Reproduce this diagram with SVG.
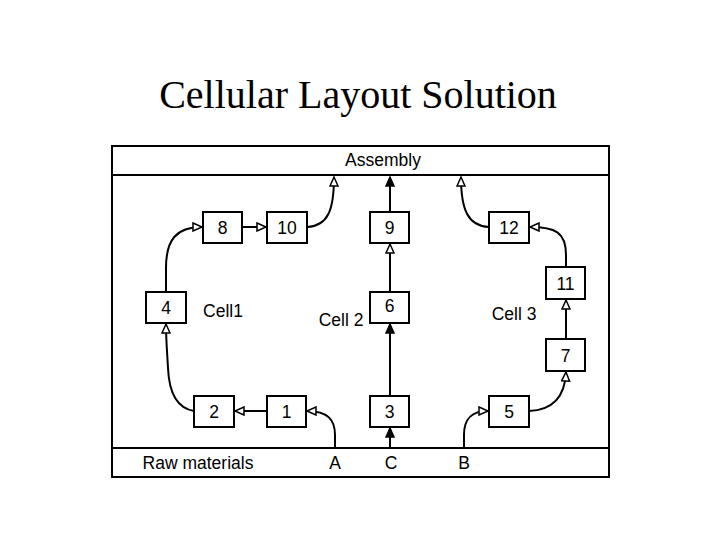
<svg xmlns="http://www.w3.org/2000/svg" width="720" height="540" viewBox="0 0 720 540">
<style>
.box{fill:#fff;stroke:#000;stroke-width:2}
.t{font-family:"Liberation Sans",Arial,sans-serif;font-size:17.5px;fill:#000;text-anchor:middle}
.c{fill:none;stroke:#000;stroke-width:2}
.h{marker-end:url(#hollow)}
.f{marker-end:url(#filled)}
</style>
<defs>
<marker id="hollow" markerUnits="userSpaceOnUse" markerWidth="12" markerHeight="10" refX="9" refY="4" orient="auto" viewBox="-1 -1 12 10">
<path d="M0,0 L9,4 L0,8 z" fill="#fff" stroke="#000" stroke-width="1.5"/>
</marker>
<marker id="filled" markerUnits="userSpaceOnUse" markerWidth="12" markerHeight="10" refX="9" refY="4" orient="auto" viewBox="-1 -1 12 10">
<path d="M0,0 L9,4 L0,8 z" fill="#000" stroke="#000" stroke-width="1.5"/>
</marker>
</defs>
<rect width="720" height="540" fill="#fff"/>
<text x="358" y="108" style="font-family:'Liberation Serif','Times New Roman',serif;font-size:40px;text-anchor:middle">Cellular Layout Solution</text>
<g id="frame">
<rect x="112" y="146" width="497" height="331" fill="none" stroke="#000" stroke-width="2"/>
<line x1="112" y1="175" x2="609" y2="175" stroke="#000" stroke-width="2"/>
<line x1="112" y1="448" x2="609" y2="448" stroke="#000" stroke-width="2"/>
</g>
<g id="assembly"><text class="t" x="383" y="166">Assembly</text></g>
<g id="raw"><text class="t" x="198" y="469">Raw materials</text></g>
<g id="srcA"><text class="t" x="335" y="469">A</text></g>
<g id="srcC"><text class="t" x="391" y="469">C</text></g>
<g id="srcB"><text class="t" x="464" y="469">B</text></g>
<g id="cell1"><text class="t" x="223" y="317">Cell1</text></g>
<g id="cell2"><text class="t" x="341" y="326">Cell 2</text></g>
<g id="cell3"><text class="t" x="514" y="320">Cell 3</text></g>
<g id="connectors">
<path class="c h" d="M166,292 L166,268 C166,240 176,227 202,227"/>
<path class="c h" d="M242,227 L266,227"/>
<path class="c h" d="M307,227 C328,226 334,210 334,177"/>
<path class="c f" d="M390,212 L390,177"/>
<path class="c h" d="M489,227 C468,226 461,210 461,177"/>
<path class="c h" d="M390,292 L390,244"/>
<path class="c h" d="M566,267 L566,255 C566,232 555,227 530,227"/>
<path class="c h" d="M566,339 L566,300"/>
<path class="c h" d="M529,411 C555,410 565,395 566,372"/>
<path class="c h" d="M194,411 C176,408 169,392 168,368 C167,350 166,340 166,324"/>
<path class="c h" d="M267,411 L235,411"/>
<path class="c h" d="M335,448 L335,435 C335,420 328,411 307,411"/>
<path class="c f" d="M390,448 L390,428"/>
<path class="c h" d="M464,448 L464,435 C464,420 470,411 488,411"/>
<path class="c f" d="M390,396 L390,324"/>
</g>
<g id="n8"><rect class="box" x="203" y="212" width="39" height="31"/><text class="t" x="222.5" y="234">8</text></g>
<g id="n10"><rect class="box" x="267" y="212" width="40" height="31"/><text class="t" x="287" y="234">10</text></g>
<g id="n9"><rect class="box" x="370" y="212" width="39" height="31"/><text class="t" x="389.5" y="234">9</text></g>
<g id="n12"><rect class="box" x="489" y="212" width="40" height="31"/><text class="t" x="509" y="234">12</text></g>
<g id="n4"><rect class="box" x="146" y="292" width="40" height="31"/><text class="t" x="166" y="314">4</text></g>
<g id="n6"><rect class="box" x="370" y="292" width="39" height="31"/><text class="t" x="389.5" y="312">6</text></g>
<g id="n11"><rect class="box" x="546" y="267" width="39" height="32"/><text class="t" x="565.5" y="290">11</text></g>
<g id="n7"><rect class="box" x="546" y="339" width="39" height="32"/><text class="t" x="565.5" y="362">7</text></g>
<g id="n2"><rect class="box" x="194" y="396" width="40" height="31"/><text class="t" x="214" y="418">2</text></g>
<g id="n1"><rect class="box" x="267" y="396" width="39" height="31"/><text class="t" x="286.5" y="418">1</text></g>
<g id="n3"><rect class="box" x="370" y="396" width="39" height="31"/><text class="t" x="389.5" y="418">3</text></g>
<g id="n5"><rect class="box" x="489" y="396" width="40" height="31"/><text class="t" x="509" y="418">5</text></g>
</svg>
